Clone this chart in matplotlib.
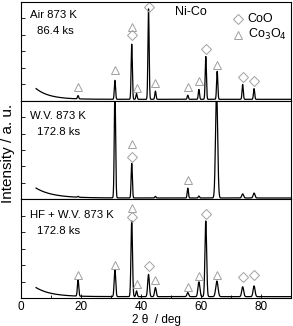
import numpy as np
import matplotlib
matplotlib.use("Agg")
import matplotlib.pyplot as plt

plt.rcParams['font.family'] = ['Liberation Sans', 'DejaVu Sans']

# sample labels (two lines each)
labels = [("Air 873 K", "86.4 ks"),
          ("W.V. 873 K", "172.8 ks"),
          ("HF + W.V. 873 K", "172.8 ks")]

# peak positions (2theta, deg), heights (a.u.) and widths for each pattern
air_pos = [19.0, 31.3, 36.9, 38.5, 42.5, 44.8, 55.6, 59.3, 61.6, 65.4, 73.9, 77.7]
air_h = [0.2, 1.15, 3.35, 0.35, 5.5, 0.5, 0.25, 0.6, 2.6, 1.7, 0.9, 0.65]
air_w = [0.2] * 12

wv_pos = [19.0, 31.3, 36.9, 44.8, 55.6, 59.3, 65.2, 73.9, 77.7]
wv_h = [0.05, 6.6, 2.1, 0.1, 0.6, 0.12, 6.6, 0.25, 0.3]
wv_w = [0.2, 0.22, 0.2, 0.2, 0.2, 0.2, 0.35, 0.3, 0.3]

hf_pos = [19.0, 31.3, 36.9, 38.5, 42.5, 44.8, 55.6, 59.3, 61.6, 65.3, 73.9, 77.7]
hf_h = [1.0, 1.65, 4.6, 0.35, 1.35, 0.55, 0.25, 0.9, 4.6, 0.95, 0.6, 0.65]
hf_w = [0.22, 0.25, 0.25, 0.22, 0.28, 0.28, 0.28, 0.32, 0.28, 0.38, 0.32, 0.32]

# low-angle background: amplitude and decay (deg)
bg_amp = [0.65, 0.6, 0.55]
bg_decay = [4.5, 5.5, 5.0]

# phase markers: (2theta, y) for CoO (diamond) and Co3O4 (triangle)
air_coo = [(36.9, 4.0), (42.5, 5.7), (61.6, 3.15), (73.9, 1.45), (77.7, 1.2)]
air_co3o4 = [(19.0, 0.85), (31.3, 1.85), (36.9, 4.5), (38.5, 0.75), (44.8, 1.05),
             (55.6, 0.8), (59.3, 1.2), (65.4, 2.15)]
wv_coo = [(36.9, 2.6)]
wv_co3o4 = [(36.9, 3.35), (55.6, 1.15)]
hf_coo = [(36.9, 4.95), (42.5, 1.95), (61.6, 5.1), (73.9, 1.3), (77.7, 1.4)]
hf_co3o4 = [(19.0, 1.4), (31.3, 2.0), (36.9, 5.5), (38.5, 0.85), (44.8, 1.1),
            (55.6, 0.65), (59.3, 1.35), (65.3, 1.4)]

patterns = [(air_pos, air_h, air_w, air_coo, air_co3o4),
            (wv_pos, wv_h, wv_w, wv_coo, wv_co3o4),
            (hf_pos, hf_h, hf_w, hf_coo, hf_co3o4)]

base = 0.08
mcol = '#a0a0a0'

fig, axes = plt.subplots(3, 1, figsize=(2.93, 3.26), dpi=100, sharex=True)
fig.subplots_adjust(left=0.072, right=0.993, bottom=0.086, top=0.994, hspace=0)

tt = np.linspace(5, 90, 4000)
for i, ax in enumerate(axes):
    pos, h, w, coo, co3o4 = patterns[i]
    y = base + bg_amp[i] * np.exp(-(tt - 5) / bg_decay[i])
    for p, a, s in zip(pos, h, w):
        y = y + a * np.exp(-0.5 * ((tt - p) / s) ** 2)
    ax.plot(tt, y, color='black', lw=0.9)

    if coo:
        cx, cy = zip(*coo)
        ax.plot(cx, cy, 'D', ms=4.8, mfc='none', mec=mcol, mew=0.7, ls='none')
    if co3o4:
        tx, ty = zip(*co3o4)
        ax.plot(tx, ty, '^', ms=5.4, mfc='none', mec=mcol, mew=0.7, ls='none')

    ax.set_xlim(0, 90)
    ax.set_ylim(0, 6)
    ax.set_yticks(range(0, 6))
    ax.tick_params(axis='y', direction='in', length=3, labelleft=False, width=0.6)
    ax.tick_params(axis='x', direction='in', length=3, width=0.6)
    for sp in ax.spines.values():
        sp.set_linewidth(0.8)

    l1, l2 = labels[i]
    ax.text(0.033, 0.87 if i == 0 else 0.84, l1, transform=ax.transAxes,
            fontsize=8.2, va='center', ha='left')
    ax.text(0.06, 0.71 if i == 0 else 0.68, l2, transform=ax.transAxes,
            fontsize=8.2, va='center', ha='left')

for ax in axes[:2]:
    ax.tick_params(axis='x', bottom=False, labelbottom=False)

axes[2].set_xticks([0, 20, 40, 60, 80])
axes[2].set_xticks([10, 30, 50, 70, 90], minor=True)
axes[2].tick_params(axis='x', which='minor', direction='in', length=2, width=0.6)
axes[2].tick_params(axis='x', labelsize=8.5, pad=2)

# header and legend
top = axes[0]
top.text(0.57, 0.9, "Ni-Co", transform=top.transAxes, fontsize=9, va='center')
top.plot([0.805], [0.83], 'D', ms=4.8, mfc='none', mec=mcol, mew=0.7,
         transform=top.transAxes)
top.plot([0.805], [0.67], '^', ms=5.4, mfc='none', mec=mcol, mew=0.7,
         transform=top.transAxes)
top.text(0.84, 0.83, "CoO", transform=top.transAxes, fontsize=9, va='center')
top.text(0.84, 0.67, "Co$_3$O$_4$", transform=top.transAxes, fontsize=9, va='center')

axes[2].set_xlabel("2 θ  / deg", fontsize=8.5, labelpad=1)
fig.text(0.028, 0.53, "Intensity / a. u.", rotation=90, fontsize=11,
         va='center', ha='center')

fig.savefig("out.png", dpi=100)
